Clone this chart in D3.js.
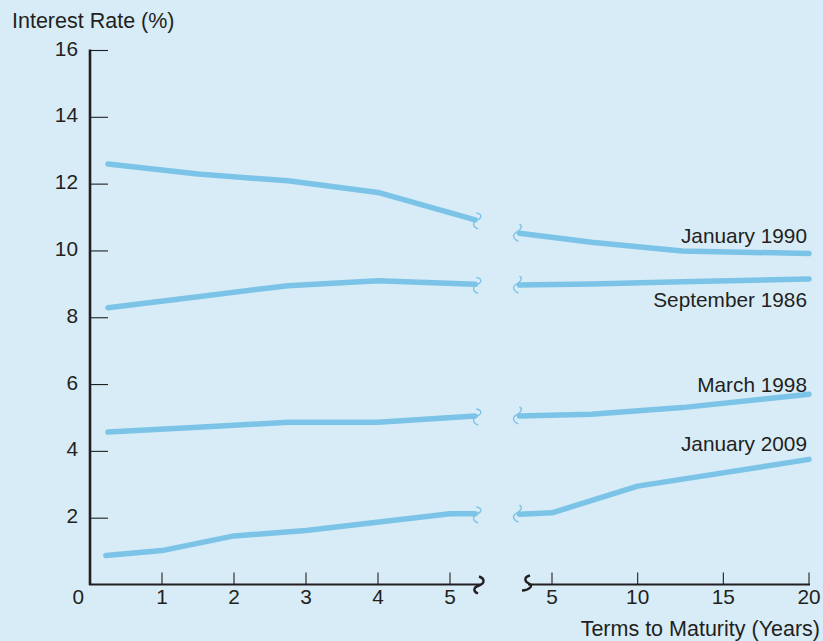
<!DOCTYPE html>
<html>
<head>
<meta charset="utf-8">
<script src="https://cdn.jsdelivr.net/npm/d3@7"></script>
<style>
  html, body { margin: 0; padding: 0; background: #d7ecf7; }
  svg { display: block; }
  text { font-family: "Liberation Sans", Arial, Helvetica, sans-serif; fill: #231f20; }
</style>
</head>
<body>
<svg id="chart" width="823" height="641"></svg>
<script>
// ---- data ----
const seriesNames = ["January 1990", "September 1986", "March 1998", "January 2009"];
// left panel (0–5 years), maturities in years
const leftMaturities = [
  [0.25, 1.5, 2.75, 4, 5.35],
  [0.25, 1.5, 2.75, 4, 5.35],
  [0.25, 1.5, 2.75, 4, 5.35],
  [0.22, 1, 2, 3, 5, 5.35]
];
const leftRates = [
  [12.6, 12.3, 12.1, 11.75, 10.93],
  [8.30, 8.63, 8.96, 9.11, 9.0],
  [4.58, 4.72, 4.87, 4.87, 5.06],
  [0.88, 1.03, 1.47, 1.63, 2.13, 2.13]
];
// right panel (5–20 years)
const rightMaturities = [
  [3.1, 7.3, 12.6, 20],
  [3.1, 7.3, 12.6, 20],
  [3.1, 7.3, 12.6, 20],
  [3.1, 5, 10, 20]
];
const rightRates = [
  [10.53, 10.26, 10.0, 9.92],
  [8.98, 9.01, 9.08, 9.16],
  [5.06, 5.11, 5.31, 5.71],
  [2.12, 2.16, 2.96, 3.76]
];
const yTicks = [2, 4, 6, 8, 10, 12, 14, 16];
const leftXTicks = [1, 2, 3, 4, 5];
const rightXTicks = [5, 10, 15, 20];

// ---- layout ----
const svg = d3.select("#chart");
const ink = "#231f20";
const lineColor = "#7cc4e7";

const y = d3.scaleLinear().domain([0, 16]).range([585, 50.5]);
const xL = d3.scaleLinear().domain([0, 5]).range([90, 450]);
const xR = d3.scaleLinear().domain([5, 20]).range([552, 809]);

// background
svg.append("rect").attr("width", 823).attr("height", 641).attr("fill", "#d7ecf7");

// y axis
svg.append("line").attr("x1", 90).attr("x2", 90).attr("y1", y(16) - 1).attr("y2", y(0))
  .attr("stroke", ink).attr("stroke-width", 2.6);
svg.selectAll(".ytick").data(yTicks).enter().append("line")
  .attr("x1", 90).attr("x2", 108).attr("y1", d => y(d)).attr("y2", d => y(d))
  .attr("stroke", ink).attr("stroke-width", 1.1);
svg.selectAll(".ylab").data(yTicks).enter().append("text")
  .attr("x", 78).attr("y", d => y(d) + 5).attr("text-anchor", "end")
  .attr("font-size", 20.8).text(d => d);
svg.append("text").attr("x", 84).attr("y", 604).attr("text-anchor", "end").attr("font-size", 20.8).text("0");

svg.append("text").attr("x", 12).attr("y", 28).attr("font-size", 21.5).text("Interest Rate (%)");

// x axis left
const axisY = y(0) - 0.5;
svg.append("line").attr("x1", 89).attr("x2", 481).attr("y1", axisY).attr("y2", axisY)
  .attr("stroke", ink).attr("stroke-width", 2.2);
svg.selectAll(".xtl").data(leftXTicks).enter().append("line")
  .attr("x1", d => xL(d)).attr("x2", d => xL(d)).attr("y1", axisY).attr("y2", axisY - 12)
  .attr("stroke", ink).attr("stroke-width", 1.1);
svg.selectAll(".xll").data(leftXTicks).enter().append("text")
  .attr("x", d => xL(d)).attr("y", 604).attr("text-anchor", "middle").attr("font-size", 20.8).text(d => d);

// x axis right
svg.append("line").attr("x1", 528).attr("x2", xR(20) + 1).attr("y1", axisY).attr("y2", axisY)
  .attr("stroke", ink).attr("stroke-width", 2.2);
svg.selectAll(".xtr").data(rightXTicks).enter().append("line")
  .attr("x1", d => xR(d)).attr("x2", d => xR(d)).attr("y1", axisY).attr("y2", axisY - 12)
  .attr("stroke", ink).attr("stroke-width", 1.1);
svg.selectAll(".xlr").data(rightXTicks).enter().append("text")
  .attr("x", d => xR(d)).attr("y", 604).attr("text-anchor", "middle").attr("font-size", 20.8).text(d => d);

svg.append("text").attr("x", 820).attr("y", 636).attr("text-anchor", "end").attr("font-size", 21.5)
  .text("Terms to Maturity (Years)");

// axis break squiggles
function axisSquiggleLeft(x, yy) {
  return `M${x},${yy - 8} C${x + 6},${yy - 6} ${x + 6},${yy - 1} ${x},${yy + 1} C${x - 6},${yy + 3} ${x - 6},${yy + 7} ${x - 1},${yy + 9}`;
}
function axisSquiggleRight(x, yy) {
  return `M${x + 5},${yy - 9} C${x - 1},${yy - 8} ${x - 1},${yy - 3} ${x + 4},${yy - 1} C${x + 9},${yy + 1} ${x + 4},${yy + 6} ${x - 3},${yy + 6}`;
}
svg.append("path").attr("d", axisSquiggleLeft(479, axisY)).attr("fill", "none").attr("stroke", ink).attr("stroke-width", 2.4);
svg.append("path").attr("d", axisSquiggleRight(525, axisY)).attr("fill", "none").attr("stroke", ink).attr("stroke-width", 2.4);

// lines
const line = (xs) => d3.line().x(d => xs(d[0])).y(d => y(d[1]));
const lineL = line(xL), lineR = line(xR);

function smallSquiggleEnd(x, yy) {
  return `M${x - 1},${yy - 7} C${x + 5},${yy - 6} ${x + 5},${yy - 2} ${x},${yy} C${x - 5},${yy + 2} ${x - 5},${yy + 7} ${x + 1},${yy + 9}`;
}
function smallSquiggleStart(x, yy) {
  return `M${x + 2},${yy - 9} C${x + 6},${yy - 7} ${x + 3},${yy - 3} ${x - 1},${yy - 1} C${x - 6},${yy + 2} ${x - 4},${yy + 6} ${x + 1},${yy + 8}`;
}

seriesNames.forEach((name, i) => {
  const ld = leftMaturities[i].map((t, j) => [t, leftRates[i][j]]);
  const rd = rightMaturities[i].map((t, j) => [t, rightRates[i][j]]);
  svg.append("path").attr("d", lineL(ld)).attr("fill", "none").attr("stroke", lineColor)
    .attr("stroke-width", 5.5).attr("stroke-linecap", "round").attr("stroke-linejoin", "round");
  svg.append("path").attr("d", lineR(rd)).attr("fill", "none").attr("stroke", lineColor)
    .attr("stroke-width", 5.5).attr("stroke-linecap", "round").attr("stroke-linejoin", "round");
  const e = ld[ld.length - 1];
  svg.append("path").attr("d", smallSquiggleEnd(xL(e[0]) + 2, y(e[1]))).attr("fill", "none")
    .attr("stroke", lineColor).attr("stroke-width", 1.4);
  const s = rd[0];
  svg.append("path").attr("d", smallSquiggleStart(xR(s[0]) - 2, y(s[1]))).attr("fill", "none")
    .attr("stroke", lineColor).attr("stroke-width", 1.4);
});

// series labels
const labelY = [242.5, 306.5, 391.5, 451];
seriesNames.forEach((name, i) => {
  svg.append("text").attr("x", 807).attr("y", labelY[i]).attr("text-anchor", "end")
    .attr("font-size", 20.8).text(name);
});
</script>
</body>
</html>
